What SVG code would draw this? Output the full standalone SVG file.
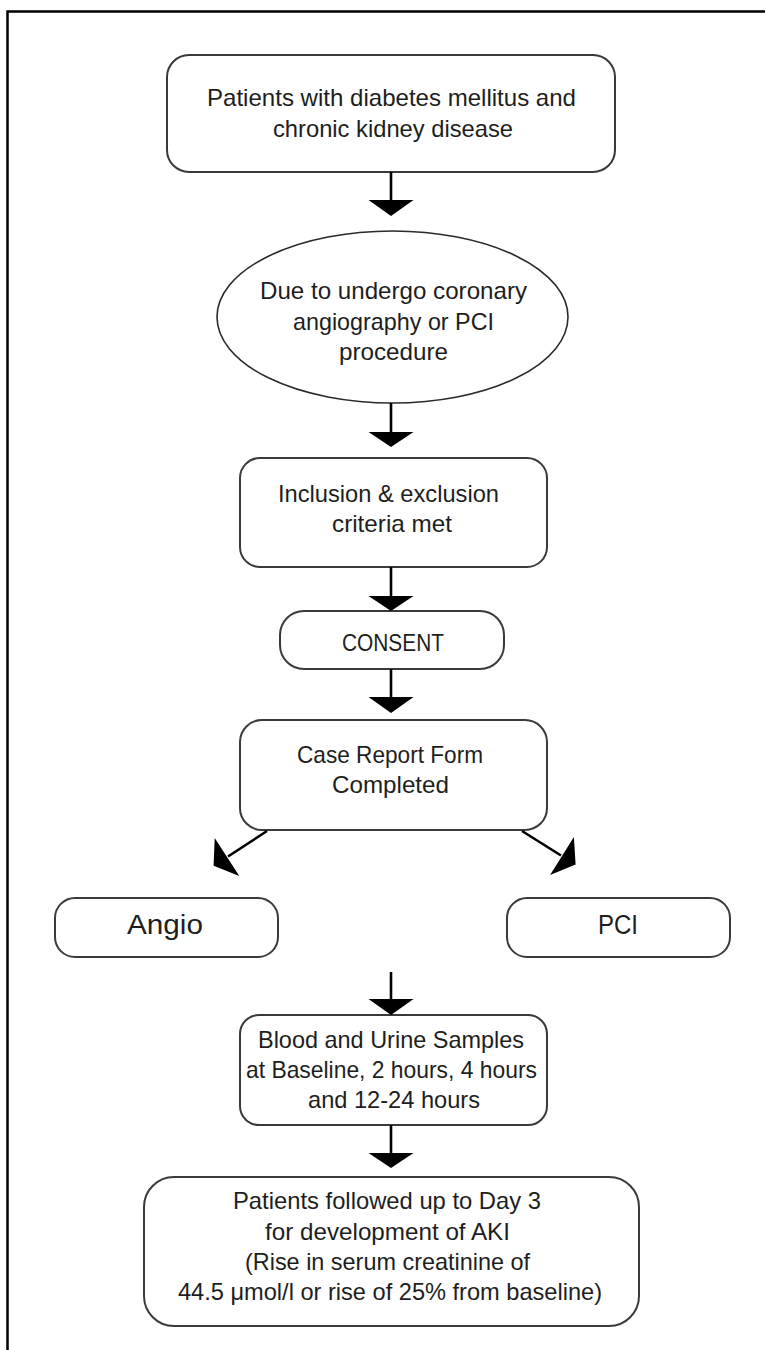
<svg xmlns="http://www.w3.org/2000/svg" width="765" height="1350" viewBox="0 0 765 1350">
  <style>
    .box { fill: #ffffff; stroke: #3a3a3a; stroke-width: 2; }
    .oval { fill: #ffffff; stroke: #2a2a2a; stroke-width: 1.6; }
    .lbl { font-family: "Liberation Sans", Arial, sans-serif; font-size: 24px; fill: #1e1e1e; }
    .big { font-size: 27px; }
    .shaft { stroke: #000000; stroke-width: 2.6; fill: none; }
    .head { fill: #000000; stroke: none; }
    .frame { stroke: #000000; stroke-width: 2.5; fill: none; }
  </style>

  <rect x="0" y="0" width="765" height="1350" fill="#ffffff"/>

  <!-- frame: left and top rules -->
  <path class="frame" d="M7.5 1350 V11.5 H765"/>

  <g id="node-patients">
    <rect class="box" x="167" y="55" width="448" height="117" rx="22" ry="22"/>
    <text class="lbl" x="207" y="106" textLength="369" lengthAdjust="spacingAndGlyphs">Patients with diabetes mellitus and</text>
    <text class="lbl" x="273" y="137" textLength="240" lengthAdjust="spacingAndGlyphs">chronic kidney disease</text>
  </g>

  <g id="node-procedure">
    <ellipse class="oval" cx="392.5" cy="317" rx="175.5" ry="86"/>
    <text class="lbl" x="260" y="299" textLength="267" lengthAdjust="spacingAndGlyphs">Due to undergo coronary</text>
    <text class="lbl" x="293" y="330" textLength="201" lengthAdjust="spacingAndGlyphs">angiography or PCI</text>
    <text class="lbl" x="339" y="360" textLength="109" lengthAdjust="spacingAndGlyphs">procedure</text>
  </g>

  <g id="node-criteria">
    <rect class="box" x="240" y="458" width="307" height="109" rx="20" ry="20"/>
    <text class="lbl" x="278" y="502" textLength="221" lengthAdjust="spacingAndGlyphs">Inclusion &amp; exclusion</text>
    <text class="lbl" x="332" y="532" textLength="120" lengthAdjust="spacingAndGlyphs">criteria met</text>
  </g>

  <g id="node-consent">
    <rect class="box" x="280" y="611" width="224" height="58" rx="24" ry="24"/>
    <text class="lbl" x="342" y="651" textLength="102" lengthAdjust="spacingAndGlyphs">CONSENT</text>
  </g>

  <g id="node-crf">
    <rect class="box" x="240" y="720" width="307" height="110" rx="22" ry="22"/>
    <text class="lbl" x="297" y="763" textLength="186" lengthAdjust="spacingAndGlyphs">Case Report Form</text>
    <text class="lbl" x="332" y="793" textLength="117" lengthAdjust="spacingAndGlyphs">Completed</text>
  </g>

  <g id="node-angio">
    <rect class="box" x="55" y="898" width="223" height="59" rx="20" ry="20"/>
    <text class="lbl big" x="127" y="934" textLength="76" lengthAdjust="spacingAndGlyphs">Angio</text>
  </g>

  <g id="node-pci">
    <rect class="box" x="507" y="898" width="223" height="59" rx="20" ry="20"/>
    <text class="lbl big" x="598" y="934" textLength="40" lengthAdjust="spacingAndGlyphs">PCI</text>
  </g>

  <g id="node-samples">
    <rect class="box" x="240" y="1015" width="307" height="110" rx="19" ry="19"/>
    <text class="lbl" x="258" y="1048" textLength="266" lengthAdjust="spacingAndGlyphs">Blood and Urine Samples</text>
    <text class="lbl" x="246" y="1078" textLength="291" lengthAdjust="spacingAndGlyphs">at Baseline, 2 hours, 4 hours</text>
    <text class="lbl" x="308" y="1108" textLength="172" lengthAdjust="spacingAndGlyphs">and 12-24 hours</text>
  </g>

  <g id="node-followup">
    <rect class="box" x="144" y="1177" width="495" height="149" rx="30" ry="30"/>
    <text class="lbl" x="233" y="1209" textLength="308" lengthAdjust="spacingAndGlyphs">Patients followed up to Day 3</text>
    <text class="lbl" x="265" y="1240" textLength="245" lengthAdjust="spacingAndGlyphs">for development of AKI</text>
    <text class="lbl" x="245" y="1270" textLength="285" lengthAdjust="spacingAndGlyphs">(Rise in serum creatinine of</text>
    <text class="lbl" x="178" y="1300" textLength="424" lengthAdjust="spacingAndGlyphs">44.5 μmol/l or rise of 25% from baseline)</text>
  </g>

  <g id="connectors">
    <!-- vertical flow arrows: shaft plus filled head -->
    <line class="shaft" x1="391" y1="172" x2="391" y2="201"/>
    <polygon class="head" points="368.5,200 413.5,200 391,216"/>

    <line class="shaft" x1="391" y1="403" x2="391" y2="433"/>
    <polygon class="head" points="368.5,432 413.5,432 391,447"/>

    <line class="shaft" x1="391" y1="567" x2="391" y2="597"/>
    <polygon class="head" points="368.5,596 413.5,596 391,611"/>

    <line class="shaft" x1="391" y1="669" x2="391" y2="698"/>
    <polygon class="head" points="368.5,697 413.5,697 391,713"/>

    <line class="shaft" x1="391" y1="972" x2="391" y2="1000"/>
    <polygon class="head" points="368.5,999 413.5,999 391,1015"/>

    <line class="shaft" x1="391" y1="1125" x2="391" y2="1154"/>
    <polygon class="head" points="368.5,1153 413.5,1153 391,1168"/>

    <!-- branch to Angio -->
    <line class="shaft" x1="267" y1="831" x2="228" y2="856.5"/>
    <polygon class="head" points="214.7,838.1 239.3,875.9 213.6,865.7"/>

    <!-- branch to PCI -->
    <line class="shaft" x1="522" y1="831" x2="561" y2="855.5"/>
    <polygon class="head" points="573.9,836.9 550.1,875.1 575.6,864.5"/>
  </g>
</svg>
